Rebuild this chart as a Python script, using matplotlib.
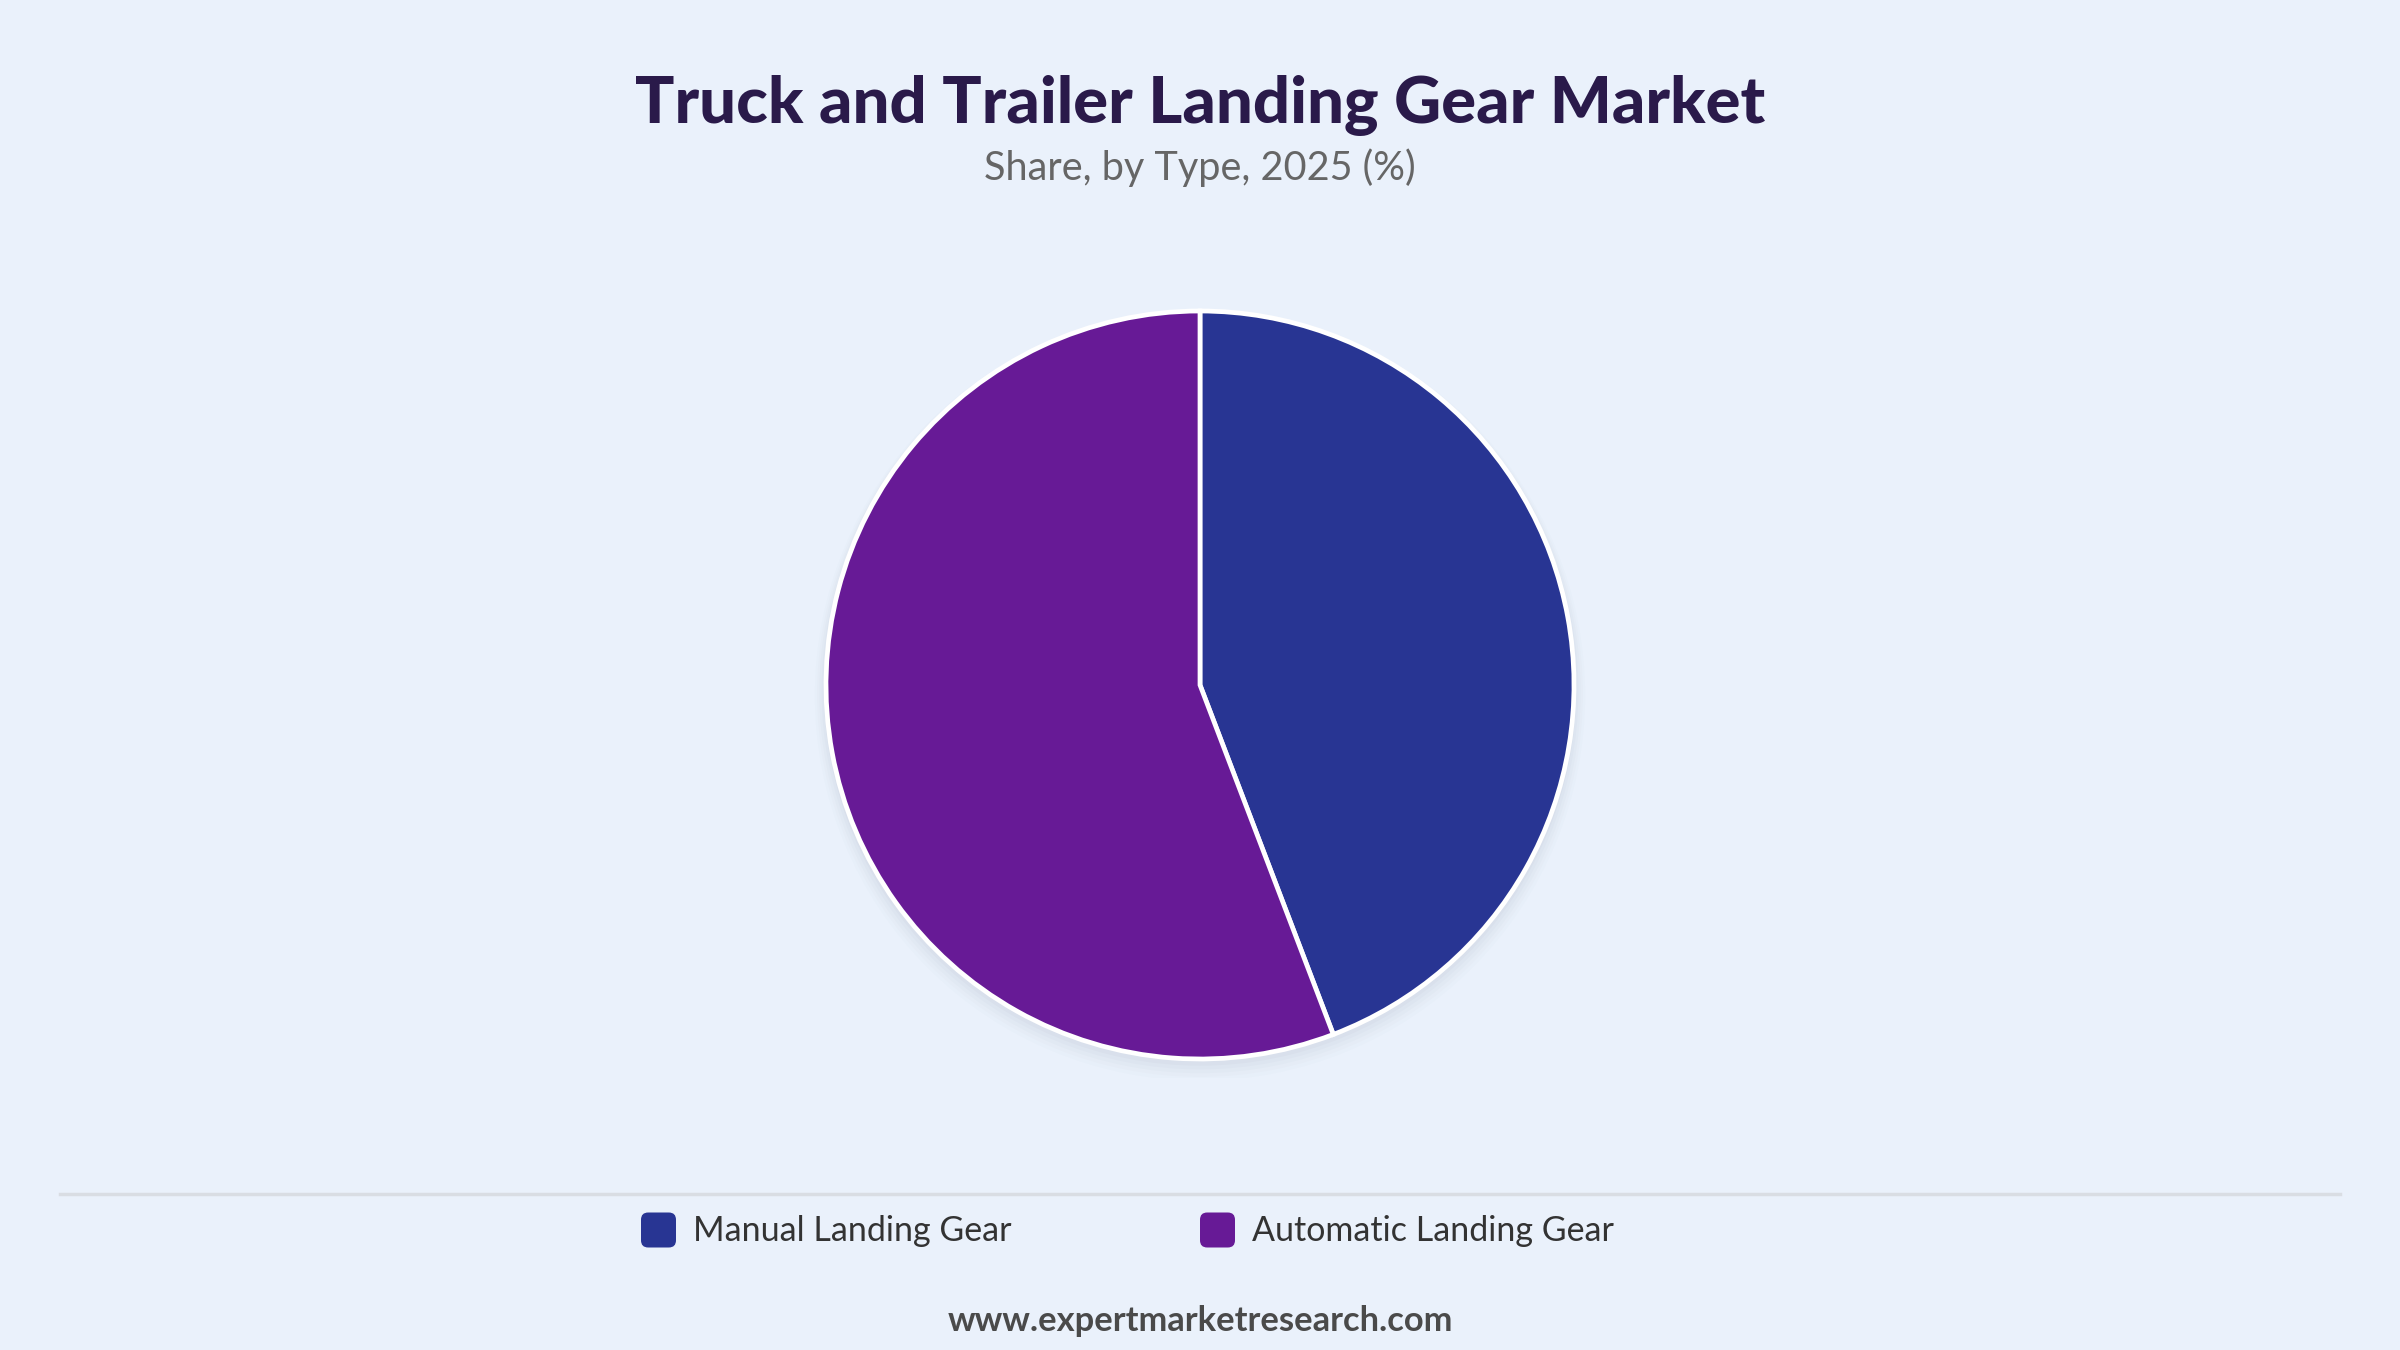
import matplotlib
matplotlib.use("Agg")
import matplotlib.pyplot as plt
from matplotlib.patches import Circle, FancyBboxPatch
from matplotlib.lines import Line2D

title = "Truck and Trailer Landing Gear Market"
subtitle = "Share, by Type, 2025 (%)"
categories = ["Manual Landing Gear", "Automatic Landing Gear"]
shares = [44.2, 55.8]
colors = ["#283593", "#671a96"]
footer = "www.expertmarketresearch.com"

BG = "#eaf1fb"
W, H = 2400, 1350
fig = plt.figure(figsize=(24, 13.5), dpi=100, facecolor=BG)

FONT = ["Lato", "DejaVu Sans"]

fig.text(0.5, 1 - 106 / H, title, ha="center", va="center", fontsize=47,
         fontweight="black", color="#2a1a4a", family=FONT)
fig.text(0.5, 1 - 168 / H, subtitle, ha="center", va="center", fontsize=28.5,
         color="#666666", family=FONT)

# pie axes
cx, cy, r = 1200, 685, 374
s = 1.05
ax = fig.add_axes([(cx - r * s) / W, (H - cy - r * s) / H, 2 * r * s / W, 2 * r * s / H])
ax.set_facecolor("none")
# soft shadow
for i, a in enumerate([0.035, 0.03, 0.025, 0.02, 0.015]):
    ax.add_patch(Circle((0.0, -0.012 - 0.004 * i), 1.0 + 0.006 * (i + 1),
                        color="#6a7a90", alpha=a, lw=0, zorder=0))
ax.pie(shares, colors=colors, startangle=90, counterclock=False, radius=1.0,
       wedgeprops=dict(edgecolor="white", linewidth=3.4, zorder=2))
ax.set_xlim(-s, s)
ax.set_ylim(-s, s)
ax.set_aspect("equal")
ax.axis("off")

# separator line
fig.add_artist(Line2D([60 / W, 2340 / W], [1 - 1194 / H, 1 - 1194 / H],
                      color="#d9dde3", lw=2.5))

# legend
leg_sq_x = [641, 1200]
sq = 35
for xpx, lab, col in zip(leg_sq_x, categories, colors):
    box = FancyBboxPatch(((xpx) / W, 1 - (1230 + sq / 2) / H), sq / W, sq / H,
                         boxstyle="round,pad=0,rounding_size=0.003",
                         transform=fig.transFigure, facecolor=col,
                         edgecolor="none", mutation_aspect=W / H)
    fig.add_artist(box)
    fig.text((xpx + sq + 17) / W, 1 - 1231 / H, lab, ha="left", va="center",
             fontsize=24.5, color="#333333", family=FONT)

fig.text(0.5, 1 - 1321 / H, footer, ha="center", va="center", fontsize=24.8,
         fontweight="bold", color="#4a4a4a", family=FONT)

fig.savefig("out.png", dpi=100, facecolor=BG)
